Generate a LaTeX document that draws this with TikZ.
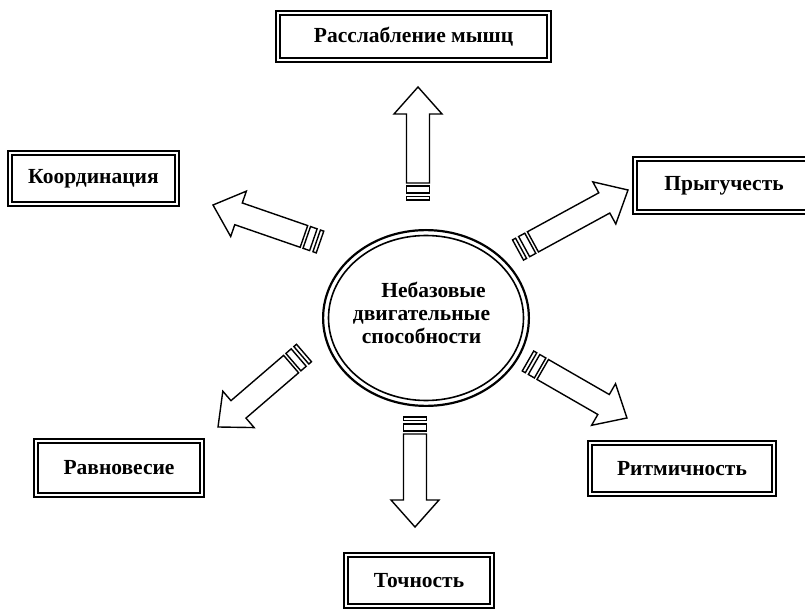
\documentclass[tikz,border=0pt]{standalone}
\usepackage{fontspec}
\setmainfont{Liberation Serif}
\usetikzlibrary{shapes.geometric}
\tikzset{
  lbl/.style={font=\bfseries\fontsize{21.5}{23}\selectfont},
  framebox/.style={draw, line width=2.4pt, rectangle, inner sep=0pt, lbl},
  arrowline/.style={line width=1.4pt, line join=miter, fill=white},
}
\newcommand\innerframe[1]{\draw[line width=1.1pt] ([shift={(5,5)}]#1.north west) rectangle ([shift={(-5,-5)}]#1.south east);}
\newcommand\sarrow[4]{%
  \pgfmathsetmacro\sang{atan2(-(#4-#2),#3-#1)}%
  \pgfmathsetmacro\slen{veclen(#3-#1,#4-#2)}%
  \begin{scope}[shift={(#1,#2)}, rotate=\sang]
    \draw[arrowline] (0,-11.5) rectangle (3.5,11.5);
    \draw[arrowline] (7,-11.5) rectangle (14,11.5);
    \draw[arrowline] (17,-11.5) -- ({\slen-27},-11.5) -- ({\slen-27},-24) -- (\slen,0)
      -- ({\slen-27},24) -- ({\slen-27},11.5) -- (17,11.5) -- cycle;
  \end{scope}}
\begin{document}
\begin{tikzpicture}[x=1pt, y=-1pt]
  \useasboundingbox (0,0) rectangle (805,609);
  \clip (0,0) rectangle (805,609);
  \fill[white] (0,0) rectangle (805,609);

  % central ellipse
  \node[draw, ellipse, line width=2.2pt, minimum width=205.8pt, minimum height=175.8pt, inner sep=0pt] (core) at (426,318) {};
  \draw[line width=1.6pt] (core.center) ellipse [x radius=97.5, y radius=82.5];
  \node[lbl, align=center, inner sep=0pt] (coretext) at (421.5,313) {\hspace*{24pt}Небазовые\\двигательные\\способности};

  % boxes
  \node[framebox, minimum width=274.6pt, minimum height=50.6pt] (relax) at (413.5,36.5) {Расслабление мышц};
  \node[framebox, minimum width=170.6pt, minimum height=54.6pt] (coord) at (93.5,178.5) {Координация};
  \node[framebox, minimum width=181.6pt, minimum height=56.6pt] (jump) at (724,185.5) {Прыгучесть};
  \node[framebox, minimum width=169.6pt, minimum height=57.6pt] (balance) at (119,468) {Равновесие};
  \node[framebox, minimum width=187.6pt, minimum height=54.6pt] (rhythm) at (682,468.5) {Ритмичность};
  \node[framebox, minimum width=149.6pt, minimum height=54.6pt] (acc) at (419,580.5) {Точность};
  \foreach \n in {relax,coord,jump,balance,rhythm,acc} {\innerframe{\n}}

  % striped block arrows
  \sarrow{418}{200}{418}{87}
  \sarrow{415}{417}{415}{527}
  \sarrow{320}{242}{213}{205}
  \sarrow{518}{250}{628}{190}
  \sarrow{304}{353}{218}{427}
  \sarrow{528}{361}{627}{418}
\end{tikzpicture}
\end{document}
